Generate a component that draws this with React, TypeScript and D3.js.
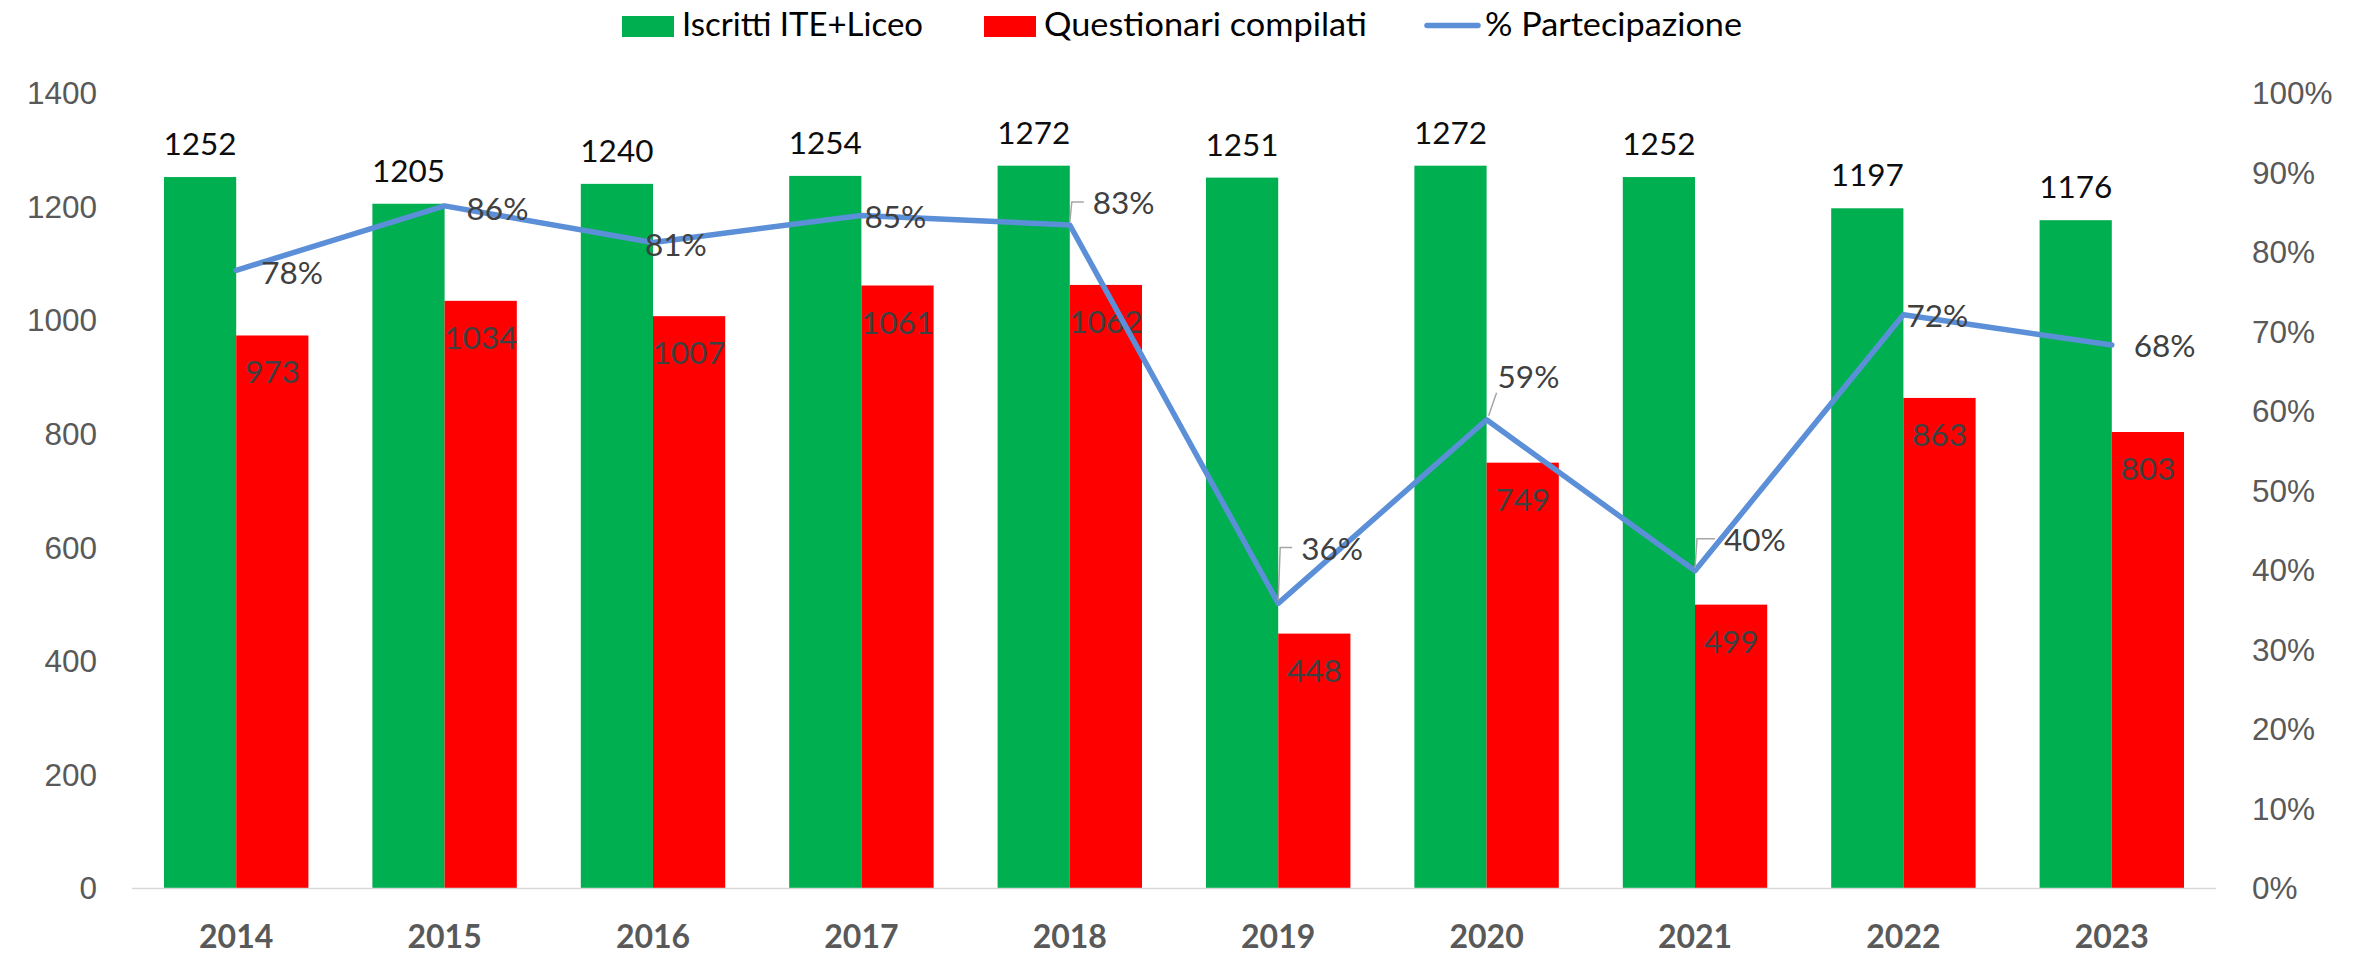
import React from "react";
import * as d3 from "d3";

const years = ["2014", "2015", "2016", "2017", "2018", "2019", "2020", "2021", "2022", "2023"];
const iscritti = [1252, 1205, 1240, 1254, 1272, 1251, 1272, 1252, 1197, 1176];
const questionari = [973, 1034, 1007, 1061, 1062, 448, 749, 499, 863, 803];
const partecipazione = [0.777, 0.858, 0.812, 0.846, 0.834, 0.358, 0.589, 0.399, 0.721, 0.683];
const leftTicks = [0, 200, 400, 600, 800, 1000, 1200, 1400];
const rightTicks = [0, 0.1, 0.2, 0.3, 0.4, 0.5, 0.6, 0.7, 0.8, 0.9, 1];
const legendLabels = ["Iscritti ITE+Liceo", "Questionari compilati", "% Partecipazione"];

// label layout for the % labels: dx = left edge offset, dy = centre offset, leader style
const pctLabelLayout = [
  { dx: 25, dy: 2, leader: "none" },
  { dx: 22, dy: 3, leader: "none" },
  { dx: -8, dy: 2, leader: "none" },
  { dx: 3, dy: 1, leader: "none" },
  { dx: 23, dy: -22, leader: "elbow" },
  { dx: 23, dy: -55, leader: "elbow" },
  { dx: 11, dy: -43, leader: "diag" },
  { dx: 29, dy: -31, leader: "elbow" },
  { dx: 3, dy: 1, leader: "none" },
  { dx: 22, dy: 1, leader: "none" },
];

const W = 2357;
const H = 956;
const GREEN = "#00B050";
const RED = "#FF0000";
const BLUE = "#5B8FD7";
const AXIS_TEXT = "#595959";
const LABEL_FONT = "Lato, 'Open Sans', sans-serif";
const TICK_FONT = "'Liberation Sans', Arial, sans-serif";

export default function App() {
  const x = d3
    .scaleBand<string>()
    .domain(years)
    .range([132, 2216])
    .paddingInner(0.307)
    .paddingOuter(0.1535);
  const y = d3.scaleLinear().domain([0, 1400]).range([888, 93]);
  const y2 = d3.scaleLinear().domain([0, 1]).range([888, 93]);
  const bw = x.bandwidth() / 2;
  const cx = (yr: string) => (x(yr) as number) + bw;

  const line = d3
    .line<number>()
    .x((_, i) => cx(years[i]))
    .y((d) => y2(d));

  const legendItems = [
    { x: 622, type: "rect", color: GREEN, label: legendLabels[0], tx: 682, len: 241 },
    { x: 984, type: "rect", color: RED, label: legendLabels[1], tx: 1044, len: 323 },
    { x: 1425, type: "line", color: BLUE, label: legendLabels[2], tx: 1485, len: 257 },
  ];

  return (
    <svg width={W} height={H} style={{ display: "block", position: "absolute", left: 0, top: 0 }}>
      <rect width={W} height={H} fill="#fff" />
      {/* legend */}
      {legendItems.map((it, i) => (
        <g key={i}>
          {it.type === "rect" ? (
            <rect x={it.x} y={16} width={52} height={21} fill={it.color} />
          ) : (
            <line x1={it.x + 2} x2={it.x + 53} y1={25.5} y2={25.5} stroke={it.color} strokeWidth={5.5} strokeLinecap="round" />
          )}
          <text x={it.tx} y={36} fontFamily={LABEL_FONT} fontSize={32} fill="#000" textLength={it.len} lengthAdjust="spacingAndGlyphs">
            {it.label}
          </text>
        </g>
      ))}

      {/* left axis ticks */}
      {leftTicks.map((t) => (
        <text key={t} x={97} y={y(t)} dy="0.36em" textAnchor="end" fontFamily={TICK_FONT} fontSize={31.5} fill={AXIS_TEXT}>
          {t}
        </text>
      ))}
      {/* right axis ticks */}
      {rightTicks.map((t) => (
        <text key={t} x={2252} y={y2(t)} dy="0.36em" textAnchor="start" fontFamily={TICK_FONT} fontSize={31.5} fill={AXIS_TEXT}>
          {d3.format(".0%")(t)}
        </text>
      ))}

      {/* bars */}
      {years.map((yr, i) => (
        <g key={yr}>
          <rect x={x(yr)} y={y(iscritti[i])} width={bw} height={y(0) - y(iscritti[i])} fill={GREEN} />
          <rect x={cx(yr)} y={y(questionari[i])} width={bw} height={y(0) - y(questionari[i])} fill={RED} />
        </g>
      ))}

      {/* x axis line */}
      <line x1={132} x2={2216} y1={888.5} y2={888.5} stroke="#D9D9D9" strokeWidth={1.5} />

      {/* x labels */}
      {years.map((yr) => (
        <text key={yr} x={cx(yr)} y={948} textAnchor="middle" fontFamily={LABEL_FONT} fontWeight={700} fontSize={32} fill={AXIS_TEXT}>
          {yr}
        </text>
      ))}

      {/* bar labels */}
      {years.map((yr, i) => (
        <g key={yr}>
          <text x={(x(yr) as number) + bw / 2} y={y(iscritti[i]) - 22} textAnchor="middle" fontFamily={LABEL_FONT} fontSize={31.5} fill="#0D0D0D">
            {iscritti[i]}
          </text>
          <text x={cx(yr) + bw / 2} y={y(questionari[i]) + 48} textAnchor="middle" fontFamily={LABEL_FONT} fontSize={31.5} fill="#404040">
            {questionari[i]}
          </text>
        </g>
      ))}

      {/* line */}
      <path d={line(partecipazione) || ""} fill="none" stroke={BLUE} strokeWidth={5.5} strokeLinejoin="round" strokeLinecap="round" />

      {/* % labels with leaders */}
      {years.map((yr, i) => {
        const px = cx(yr);
        const py = y2(partecipazione[i]);
        const L = pctLabelLayout[i];
        const lx = px + L.dx;
        const ly = py + L.dy;
        let leader = null;
        if (L.leader === "elbow") {
          leader = (
            <polyline
              points={`${px},${py - 3} ${px + 2},${ly - 1} ${lx - 9},${ly - 1}`}
              fill="none"
              stroke="#A6A6A6"
              strokeWidth={1.5}
            />
          );
        } else if (L.leader === "diag") {
          leader = <line x1={px + 2} y1={py - 4} x2={lx - 1} y2={ly + 16} stroke="#A6A6A6" strokeWidth={1.5} />;
        }
        return (
          <g key={yr}>
            {leader}
            <text x={lx} y={ly} dy="0.36em" fontFamily={LABEL_FONT} fontSize={31.5} fill="#404040">
              {d3.format(".0%")(partecipazione[i])}
            </text>
          </g>
        );
      })}
    </svg>
  );
}
